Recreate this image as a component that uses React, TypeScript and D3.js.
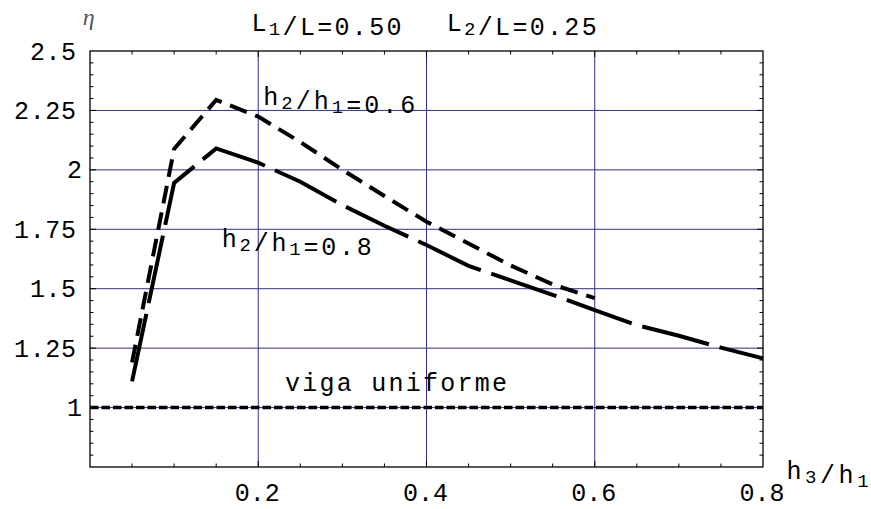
import React from "react";
import * as d3 from "d3";

// ---- data ----
const xs08 = [0.05, 0.1, 0.15, 0.2, 0.25, 0.3, 0.35, 0.4, 0.45, 0.5, 0.55, 0.6, 0.65, 0.7, 0.75, 0.8];
const eta08 = [1.11, 1.945, 2.09, 2.03, 1.95, 1.852, 1.765, 1.684, 1.596, 1.535, 1.474, 1.41, 1.347, 1.302, 1.252, 1.207];
const xs06 = [0.05, 0.1, 0.15, 0.2, 0.25, 0.3, 0.35, 0.4, 0.45, 0.5, 0.55, 0.6];
const eta06 = [1.19, 2.088, 2.294, 2.224, 2.117, 2.0, 1.89, 1.782, 1.69, 1.598, 1.518, 1.46];
const uniformX = [0, 0.8];
const uniformEta = [1, 1];

const xTickValues = [0.2, 0.4, 0.6, 0.8];
const xTickLabels = ["0.2", "0.4", "0.6", "0.8"];
const yTickValues = [1, 1.25, 1.5, 1.75, 2, 2.25, 2.5];
const yTickLabels = ["1", "1.25", "1.5", "1.75", "2", "2.25", "2.5"];
const xGrid = [0.2, 0.4, 0.6];
const yGrid = [1, 1.25, 1.5, 1.75, 2, 2.25];

const W = 871;
const H = 509;
const MONO = "'Liberation Mono', 'Courier New', monospace";
const GRID = "#2e2e9c";

export default function App() {
  const x = d3.scaleLinear().domain([0, 0.8]).range([90, 763]);
  const y = d3.scaleLinear().domain([0.75, 2.5]).range([467, 51]);
  const line = d3
    .line<[number, number]>()
    .x((d) => x(d[0]))
    .y((d) => y(d[1]));

  const p08 = line(xs08.map((v, i) => [v, eta08[i]]))!;
  const p06 = line(xs06.map((v, i) => [v, eta06[i]]))!;
  const pUni = line(uniformX.map((v, i) => [v, uniformEta[i]]))!;

  const xMinor = d3.range(1, 16).map((i) => i * 0.05);
  const yMinor = d3.range(1, 35).map((i) => 0.75 + i * 0.05);

  const [x0, x1] = x.range();
  const [y0, y1] = y.range();

  const sub = (t: string) => (
    <>
      <tspan fontSize={19} dy={4}>{t}</tspan>
      <tspan dy={-4}></tspan>
    </>
  );

  return (
    <svg width={W} height={H} style={{ position: "absolute", left: 0, top: 0, background: "#fff" }}>
      <rect x={0} y={0} width={W} height={H} fill="#fff" />
      {/* grid */}
      {xGrid.map((v) => (
        <line key={"gx" + v} x1={x(v)} x2={x(v)} y1={y1} y2={y0} stroke={GRID} strokeWidth={1} />
      ))}
      {yGrid.map((v) => (
        <line key={"gy" + v} x1={x0} x2={x1} y1={y(v)} y2={y(v)} stroke={GRID} strokeWidth={1} />
      ))}
      {/* curves */}
      <path d={pUni} fill="none" stroke="#000" strokeWidth={3.5} strokeDasharray="8.5,3" />
      <path d={p08} fill="none" stroke="#000" strokeWidth={4} strokeDasharray="69,11" strokeLinejoin="miter" />
      <path d={p06} fill="none" stroke="#000" strokeWidth={4} strokeDasharray="18,9" strokeLinejoin="miter" />
      {/* frame */}
      <rect x={x0} y={y1} width={x1 - x0} height={y0 - y1} fill="none" stroke="#000" strokeWidth={1.3} />
      {/* ticks */}
      {xMinor.map((v) => {
        const major = Math.abs((v * 20) % 4) < 1e-6;
        const L = major ? 6 : 3.5;
        return (
          <g key={"tx" + v}>
            <line x1={x(v)} x2={x(v)} y1={y0} y2={y0 - L} stroke="#000" strokeWidth={1} />
            <line x1={x(v)} x2={x(v)} y1={y1} y2={y1 + L} stroke="#000" strokeWidth={1} />
          </g>
        );
      })}
      {yMinor.map((v) => {
        const major = Math.abs(Math.round(v * 4) - v * 4) < 1e-6;
        const L = major ? 6 : 3.5;
        return (
          <g key={"ty" + v}>
            <line x1={x0} x2={x0 + L} y1={y(v)} y2={y(v)} stroke="#000" strokeWidth={1} />
            <line x1={x1} x2={x1 - L} y1={y(v)} y2={y(v)} stroke="#000" strokeWidth={1} />
          </g>
        );
      })}
      {/* tick labels */}
      {xTickValues.map((v, i) => (
        <text key={"lx" + v} x={x(v) - 1} y={501} textAnchor="middle" fontFamily={MONO} fontSize={25} fill="#000">
          {xTickLabels[i]}
        </text>
      ))}
      {yTickValues.map((v, i) => (
        <text
          key={"ly" + v}
          x={yTickLabels[i].length > 1 ? 76 : 82}
          y={y(v) + 8.5}
          textAnchor="end"
          fontFamily={MONO}
          fontSize={25}
          fill="#000"
          textLength={yTickLabels[i].length > 1 ? (yTickLabels[i].length === 4 ? 62 : 46) : undefined}
          lengthAdjust="spacing"
        >
          {yTickLabels[i]}
        </text>
      ))}
      {/* axis labels */}
      <text x={x(-0.0085)} y={y(2.61)} fontFamily="'Liberation Serif', serif" fontStyle="italic" fontSize={24} fill="#555">
        η
      </text>
      <text x={x(0.828)} y={y(0.6995)} fontFamily={MONO} fontSize={25} textLength={82} lengthAdjust="spacing">
        h{sub("3")}/h{sub("1")}
      </text>
      {/* title */}
      <text x={x(0.192)} y={y(2.584)} fontFamily={MONO} fontSize={25} textLength={150} lengthAdjust="spacing">
        L{sub("1")}/L=0.50
      </text>
      <text x={x(0.4240)} y={y(2.584)} fontFamily={MONO} fontSize={25} textLength={150} lengthAdjust="spacing">
        L{sub("2")}/L=0.25
      </text>
      {/* annotations */}
      <text x={x(0.206)} y={y(2.273)} fontFamily={MONO} fontSize={25} textLength={152} lengthAdjust="spacing">
        h{sub("2")}/h{sub("1")}=0.6
      </text>
      <text x={x(0.1566)} y={y(1.677)} fontFamily={MONO} fontSize={25} textLength={150} lengthAdjust="spacing">
        h{sub("2")}/h{sub("1")}=0.8
      </text>
      <text x={x(0.2318)} y={y(1.068)} fontFamily={MONO} fontSize={25} textLength={222} lengthAdjust="spacing">
        viga uniforme
      </text>
    </svg>
  );
}
